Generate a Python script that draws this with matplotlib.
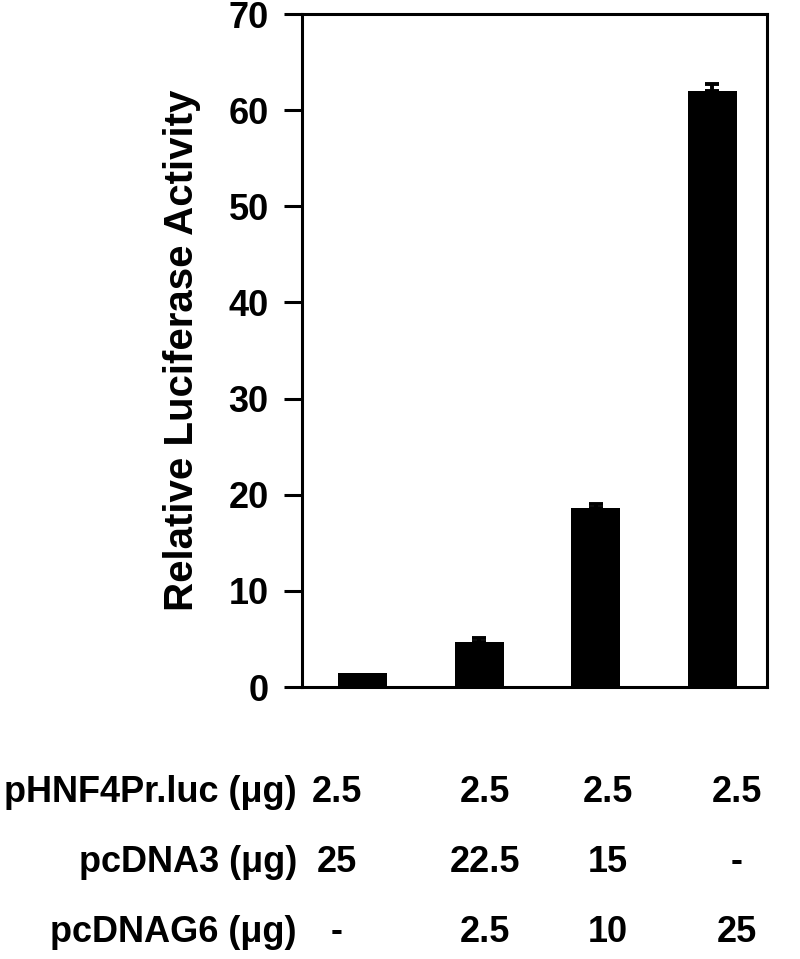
import matplotlib
matplotlib.use("Agg")
import matplotlib.pyplot as plt
import numpy as np

# bar values (relative luciferase activity) and upper error
activity = [1.5, 4.7, 18.6, 62.0]
errors = [0.0, 0.4, 0.4, 0.7]

# transfection table below the chart
row_labels = ["pHNF4Pr.luc (\u03bcg)", "pcDNA3 (\u03bcg)", "pcDNAG6 (\u03bcg)"]
row_values = [
    ["2.5", "2.5", "2.5", "2.5"],
    ["25", "22.5", "15", "-"],
    ["-", "2.5", "10", "25"],
]
yticks = [0, 10, 20, 30, 40, 50, 60, 70]

plt.rcParams['font.family'] = ['Liberation Sans', 'DejaVu Sans']
plt.rcParams['font.weight'] = 'bold'

fig = plt.figure(figsize=(8, 9.59), dpi=100)
ax = fig.add_axes([0.3775, 0.2836, 0.959 - 0.3775, 0.9854 - 0.2836])

x = np.arange(len(activity))
ax.bar(x, activity, width=0.42, color='black', zorder=2)

# only bars with a visible error get a whisker
err = np.array(errors)
has_err = err > 0
ax.errorbar(x[has_err], np.array(activity)[has_err],
            yerr=[np.zeros(has_err.sum()), err[has_err]], fmt='none',
            ecolor='black', elinewidth=2.8, capsize=5, capthick=2.8, zorder=1)

ax.set_xlim(-0.52, 3.47)
ax.set_ylim(0, 70)
ax.set_yticks(yticks)
ax.set_yticklabels([str(t) for t in yticks], fontsize=26, fontweight='bold')
ax.set_xticks([])
for s in ax.spines.values():
    s.set_linewidth(2.2)
ax.tick_params(axis='y', length=13, width=2.2, pad=11)
ax.set_ylabel("Relative Luciferase Activity", fontsize=29, fontweight='bold',
              labelpad=20)

# table text in figure pixels
W, H = 800, 959
row_y = [792, 862, 932]
col_x = [337, 485, 608, 737]
for label, vals, y in zip(row_labels, row_values, row_y):
    fig.text(297 / W, 1 - y / H, label, ha='right', va='center',
             fontsize=26, fontweight='bold')
    for v, cx in zip(vals, col_x):
        fig.text(cx / W, 1 - y / H, v, ha='center', va='center',
                 fontsize=26, fontweight='bold')

fig.savefig("out.png", dpi=100)
